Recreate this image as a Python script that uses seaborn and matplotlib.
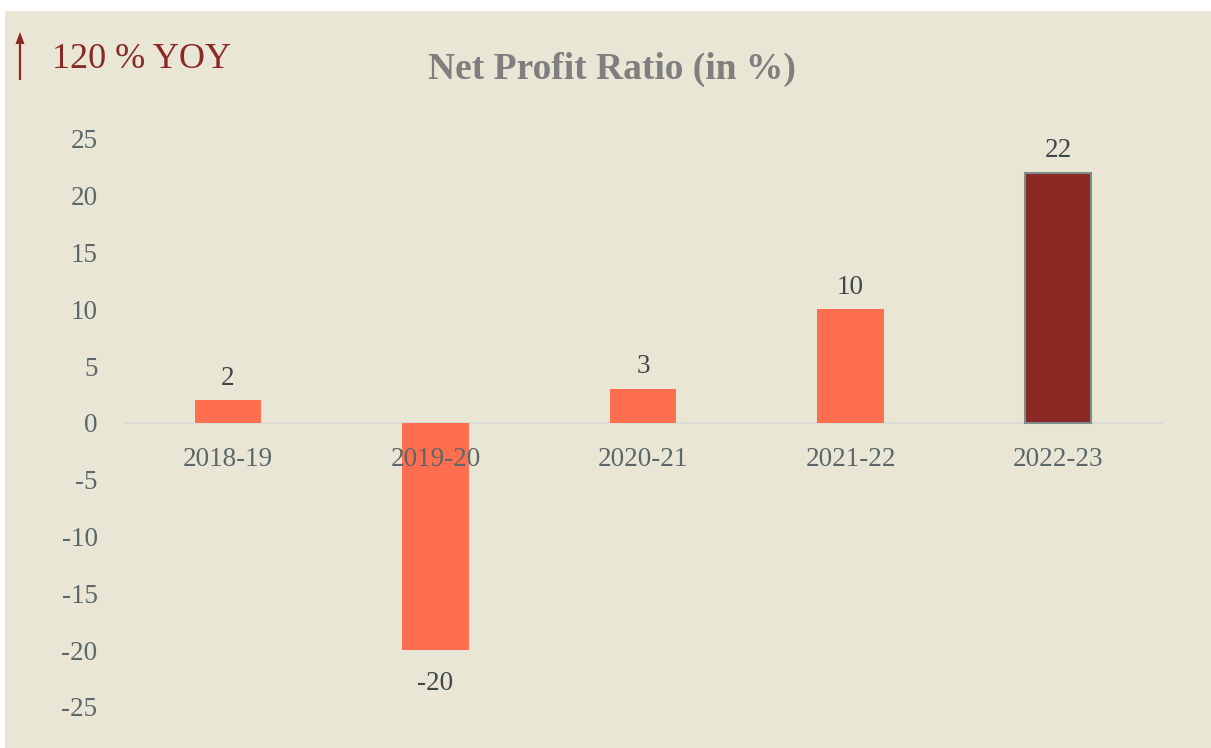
import matplotlib
matplotlib.use("Agg")
import matplotlib.pyplot as plt
import seaborn as sns
from matplotlib.patches import Rectangle, FancyArrow

# ---- data ----
categories = ["2018-19", "2019-20", "2020-21", "2021-22", "2022-23"]
values = [2, -20, 3, 10, 22]
bar_colors = ["#FF6F4F", "#FF6F4F", "#FF6F4F", "#FF6F4F", "#8A2824"]
y_ticks = [25, 20, 15, 10, 5, 0, -5, -10, -15, -20, -25]
title = "Net Profit Ratio (in %)"
badge = "120 % YOY"

BG = "#E9E6D5"
TICK = "#5A6869"
LABEL = "#3F4848"
DARKRED = "#8A2824"

sns.set_theme(style="white")
plt.rcParams["font.family"] = ["Liberation Serif", "DejaVu Serif"]

fig = plt.figure(figsize=(12.11, 7.48), dpi=100)
fig.patch.set_facecolor("white")
# beige panel (white strip at top and left as in reference)
fig.patches.append(Rectangle((5 / 1211, 0), 1 - 5 / 1211, 1 - 11 / 748,
                             transform=fig.transFigure, facecolor=BG,
                             edgecolor="none", zorder=-10))

ax = fig.add_axes([124 / 1211, 41 / 748, (1162 - 124) / 1211, (609 - 41) / 748])
ax.set_facecolor("none")
ax.set_zorder(1)

sns.barplot(x=categories, y=values, hue=categories, palette=bar_colors,
            legend=False, width=0.32, ax=ax, saturation=1)

for i, p in enumerate(ax.patches):
    p.set_zorder(1)
    if i == len(ax.patches) - 1:
        p.set_edgecolor("#7F8C8C")
        p.set_linewidth(1.5)
    else:
        p.set_edgecolor("none")

for c, v in zip(ax.containers, values):
    ax.bar_label(c, fmt="%g", padding=7 if v >= 0 else 15,
                 fontsize=19.5, color=LABEL)

ax.set_ylim(-25, 25)
ax.set_xlim(-0.5, 4.5)
ax.set_yticks(y_ticks)
ax.set_yticklabels([str(v) for v in y_ticks])
ax.set_xlabel("")
ax.set_ylabel("")
ax.set_axisbelow(False)

for s in ["top", "right", "left"]:
    ax.spines[s].set_visible(False)
ax.spines["bottom"].set_position(("data", 0))
ax.spines["bottom"].set_color("#D9D9D6")
ax.spines["bottom"].set_linewidth(1.2)
ax.spines["bottom"].set_zorder(0.5)

ax.tick_params(axis="y", length=0, pad=19, labelsize=19.5, labelcolor=TICK)
ax.tick_params(axis="x", length=0, pad=17, labelsize=19.5, labelcolor=TICK)

fig.text(0.505, 1 - 79 / 748, title, ha="center", va="baseline",
         fontsize=27, fontweight="bold", color="#7F7F7F")
fig.text(52 / 1211, 1 - 68 / 748, badge, ha="left", va="baseline",
         fontsize=26, color=DARKRED)

# up arrow
fig.patches.append(FancyArrow(20 / 1211, 1 - 80 / 748, 0, 48 / 748,
                              width=2.2 / 1211, head_width=9 / 1211,
                              head_length=12 / 748, length_includes_head=True,
                              transform=fig.transFigure, color=DARKRED,
                              linewidth=0, zorder=3))

fig.savefig("out.png", dpi=100, facecolor=fig.get_facecolor())
